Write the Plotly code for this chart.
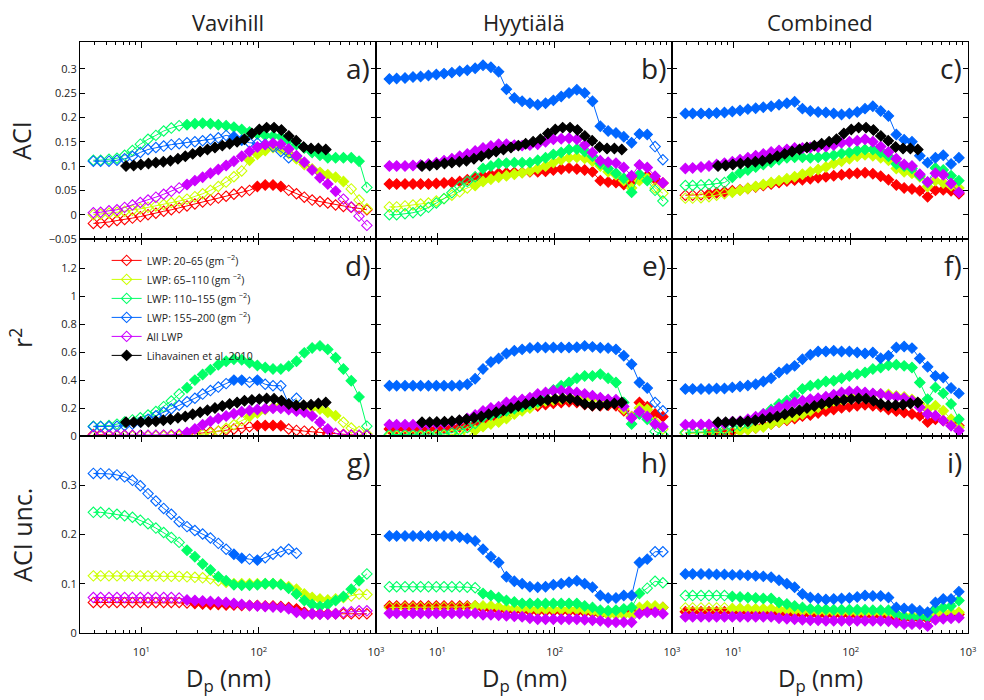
import math
import plotly.graph_objects as go

# ---------------- data ----------------
dp = [3.9, 4.5, 5.3, 6.2, 7.2, 8.4, 9.8, 11.4, 13.3, 15.5, 18.0, 21.0, 24.5, 28.6, 33.3, 38.8,
      45.3, 52.8, 61.5, 71.7, 83.6, 97.5, 113.7, 132.5, 154.5, 180.2, 210.0, 244.9, 285.6,
      333.0, 388.2, 452.6, 527.7, 615.2, 717.3, 836.3]
dp_lih = [7.4, 8.6, 9.9, 11.5, 13.3, 15.4, 17.7, 20.5, 23.7, 27.4, 31.7, 36.6, 42.4, 49.0,
          56.6, 65.5, 75.7, 87.5, 101.2, 117.0, 135.2, 156.3, 180.7, 208.9, 241.5, 279.3,
          322.8, 373.3]

series_names = ["LWP: 20–65 (gm <sup>−2</sup>)", "LWP: 65–110 (gm <sup>−2</sup>)",
                "LWP: 110–155 (gm <sup>−2</sup>)", "LWP: 155–200 (gm <sup>−2</sup>)", "All LWP"]
lih_name = "Lihavainen et al. 2010"
station_names = ["Vavihill", "Hyytiälä", "Combined"]
row_titles = ["ACI", "r<sup>2</sup>", "ACI unc."]
panel_letters = ["a)", "b)", "c)", "d)", "e)", "f)", "g)", "h)", "i)"]

# Lihavainen et al. 2010 reference
lih_aci = [0.100, 0.101, 0.103, 0.105, 0.107, 0.109, 0.111, 0.115, 0.120, 0.125, 0.130, 0.134, 0.138, 0.142,
           0.146, 0.150, 0.155, 0.167, 0.175, 0.179, 0.179, 0.174, 0.162, 0.152, 0.139, 0.136, 0.136, 0.134]
lih_r2 = [0.098, 0.099, 0.100, 0.102, 0.106, 0.112, 0.120, 0.130, 0.140, 0.155, 0.170, 0.185, 0.200, 0.215,
          0.229, 0.240, 0.252, 0.258, 0.264, 0.269, 0.266, 0.252, 0.229, 0.218, 0.220, 0.224, 0.233, 0.240]

# ---- ACI, Vavihill ----
aci_vav_red = [-0.018, -0.017, -0.015, -0.012, -0.010, -0.007, -0.004, 0.000, 0.003, 0.007, 0.010, 0.014, 0.018, 0.022, 0.026, 0.030, 0.034, 0.038, 0.042, 0.047, 0.050, 0.058, 0.061, 0.061, 0.058, 0.050, 0.043, 0.036, 0.030, 0.027, 0.024, 0.020, 0.017, 0.015, 0.013, 0.010]
aci_vav_red_sig = "000000000000000000000111100000000000"
aci_vav_yel = [0.000, 0.001, 0.003, 0.005, 0.007, 0.009, 0.012, 0.015, 0.018, 0.021, 0.025, 0.028, 0.032, 0.037, 0.043, 0.050, 0.058, 0.067, 0.078, 0.090, 0.112, 0.124, 0.132, 0.138, 0.135, 0.126, 0.115, 0.103, 0.094, 0.087, 0.082, 0.077, 0.068, 0.053, 0.030, 0.012]
aci_vav_yel_sig = "000000000000000000001111111111111000"
aci_vav_grn = [0.112, 0.112, 0.114, 0.116, 0.122, 0.132, 0.145, 0.155, 0.163, 0.172, 0.178, 0.183, 0.185, 0.187, 0.188, 0.187, 0.185, 0.183, 0.180, 0.175, 0.170, 0.166, 0.163, 0.162, 0.160, 0.153, 0.144, 0.137, 0.128, 0.122, 0.117, 0.117, 0.117, 0.117, 0.110, 0.056]
aci_vav_grn_sig = "000000000000111111111111111111111110"
aci_vav_blu = [0.110, 0.110, 0.110, 0.112, 0.115, 0.120, 0.128, 0.134, 0.138, 0.141, 0.144, 0.146, 0.148, 0.150, 0.152, 0.155, 0.158, 0.163, 0.160, 0.153, 0.148, 0.147, 0.145, 0.140, 0.130, 0.117, 0.120]
aci_vav_blu_sig = "000000000000000000110000000"
aci_vav_pur = [0.004, 0.005, 0.008, 0.010, 0.015, 0.020, 0.025, 0.030, 0.036, 0.042, 0.048, 0.055, 0.062, 0.070, 0.077, 0.085, 0.093, 0.101, 0.110, 0.120, 0.130, 0.139, 0.144, 0.147, 0.145, 0.135, 0.121, 0.108, 0.092, 0.076, 0.063, 0.048, 0.032, 0.016, -0.003, -0.022]
aci_vav_pur_sig = "000000000000111111111111111111110000"

# ---- ACI, Hyytiala ----
aci_hyy_red = [0.063, 0.063, 0.063, 0.063, 0.063, 0.063, 0.064, 0.065, 0.066, 0.068, 0.072, 0.076, 0.080, 0.082, 0.085, 0.086, 0.087, 0.087, 0.088, 0.088, 0.089, 0.092, 0.094, 0.096, 0.094, 0.092, 0.088, 0.070, 0.067, 0.066, 0.062, 0.068, 0.080, 0.080, 0.073, 0.065]
aci_hyy_red_sig = "111111111111111111111111111111111111"
aci_hyy_yel = [0.016, 0.016, 0.018, 0.020, 0.022, 0.024, 0.028, 0.033, 0.040, 0.047, 0.055, 0.060, 0.068, 0.073, 0.077, 0.080, 0.083, 0.086, 0.090, 0.095, 0.100, 0.107, 0.113, 0.117, 0.118, 0.116, 0.110, 0.100, 0.088, 0.082, 0.070, 0.055, 0.070, 0.075, 0.055, 0.044]
aci_hyy_yel_sig = "000000000001111111111111111111111100"
aci_hyy_grn = [0.000, 0.000, 0.002, 0.004, 0.008, 0.015, 0.024, 0.033, 0.045, 0.058, 0.068, 0.078, 0.095, 0.100, 0.105, 0.106, 0.107, 0.107, 0.107, 0.112, 0.117, 0.124, 0.128, 0.134, 0.135, 0.130, 0.120, 0.105, 0.095, 0.085, 0.075, 0.046, 0.083, 0.070, 0.050, 0.028]
aci_hyy_grn_sig = "000000000000111111111111111111111100"
aci_hyy_blu = [0.279, 0.280, 0.281, 0.283, 0.284, 0.286, 0.288, 0.290, 0.292, 0.295, 0.297, 0.301, 0.307, 0.303, 0.294, 0.258, 0.240, 0.233, 0.229, 0.226, 0.229, 0.235, 0.243, 0.250, 0.257, 0.250, 0.233, 0.182, 0.172, 0.168, 0.160, 0.148, 0.166, 0.165, 0.140, 0.113]
aci_hyy_blu_sig = "111111111111111111111111111111111100"
aci_hyy_pur = [0.100, 0.100, 0.100, 0.101, 0.102, 0.104, 0.107, 0.111, 0.115, 0.120, 0.125, 0.131, 0.137, 0.141, 0.145, 0.145, 0.143, 0.142, 0.143, 0.145, 0.150, 0.155, 0.156, 0.157, 0.155, 0.143, 0.128, 0.111, 0.108, 0.106, 0.097, 0.080, 0.102, 0.097, 0.079, 0.065]
aci_hyy_pur_sig = "111111111111111111111111111111111111"

# ---- ACI, Combined ----
aci_com_red = [0.040, 0.040, 0.041, 0.043, 0.045, 0.047, 0.049, 0.051, 0.054, 0.057, 0.060, 0.063, 0.066, 0.069, 0.071, 0.072, 0.074, 0.076, 0.078, 0.080, 0.082, 0.084, 0.085, 0.086, 0.084, 0.079, 0.072, 0.061, 0.055, 0.053, 0.049, 0.037, 0.050, 0.051, 0.049, 0.043]
aci_com_red_sig = "000111111111111111111111111111111111"
aci_com_yel = [0.034, 0.034, 0.035, 0.037, 0.040, 0.043, 0.046, 0.050, 0.054, 0.058, 0.062, 0.066, 0.070, 0.074, 0.078, 0.083, 0.088, 0.093, 0.098, 0.105, 0.110, 0.115, 0.120, 0.123, 0.121, 0.117, 0.112, 0.095, 0.088, 0.085, 0.078, 0.058, 0.070, 0.065, 0.060, 0.055]
aci_com_yel_sig = "000000111111111111111111111111111111"
aci_com_grn = [0.060, 0.060, 0.061, 0.062, 0.064, 0.066, 0.077, 0.086, 0.092, 0.098, 0.103, 0.108, 0.113, 0.117, 0.118, 0.118, 0.117, 0.118, 0.120, 0.122, 0.126, 0.128, 0.132, 0.134, 0.134, 0.128, 0.120, 0.104, 0.100, 0.095, 0.080, 0.066, 0.096, 0.092, 0.080, 0.070]
aci_com_grn_sig = "000000111111111111111111111111111111"
aci_com_blu = [0.208, 0.208, 0.208, 0.208, 0.209, 0.210, 0.212, 0.214, 0.217, 0.219, 0.221, 0.223, 0.226, 0.229, 0.232, 0.218, 0.213, 0.211, 0.210, 0.208, 0.206, 0.208, 0.211, 0.218, 0.223, 0.213, 0.203, 0.165, 0.154, 0.150, 0.121, 0.107, 0.117, 0.122, 0.104, 0.117]
aci_com_blu_sig = "111111111111111111111111111111111111"
aci_com_pur = [0.095, 0.096, 0.098, 0.100, 0.103, 0.106, 0.109, 0.113, 0.117, 0.121, 0.125, 0.129, 0.132, 0.134, 0.137, 0.137, 0.138, 0.139, 0.140, 0.143, 0.148, 0.150, 0.152, 0.155, 0.150, 0.140, 0.129, 0.115, 0.103, 0.100, 0.083, 0.067, 0.085, 0.082, 0.064, 0.046]
aci_com_pur_sig = "111111111111111111111111111111111111"

# ---- r2, Vavihill ----
r2_vav_red = [0.010, 0.010, 0.008, 0.006, 0.005, 0.004, 0.003, 0.002, 0.002, 0.003, 0.005, 0.008, 0.012, 0.017, 0.022, 0.028, 0.035, 0.042, 0.050, 0.058, 0.066, 0.073, 0.075, 0.075, 0.074, 0.050, 0.040, 0.035, 0.030, 0.025, 0.020, 0.015, 0.010, 0.006, 0.004, 0.002]
r2_vav_red_sig = "000000000000000000000111100000000000"
r2_vav_yel = [0.000, 0.000, 0.000, 0.000, 0.000, 0.000, 0.000, 0.000, 0.000, 0.000, 0.000, 0.000, 0.002, 0.006, 0.012, 0.020, 0.035, 0.055, 0.080, 0.110, 0.140, 0.165, 0.190, 0.205, 0.217, 0.224, 0.220, 0.210, 0.205, 0.193, 0.170, 0.145, 0.098, 0.057, 0.033, 0.014]
r2_vav_yel_sig = "000000000000000000001111111111110000"
r2_vav_grn = [0.070, 0.070, 0.075, 0.085, 0.100, 0.115, 0.130, 0.150, 0.175, 0.210, 0.250, 0.300, 0.345, 0.400, 0.440, 0.475, 0.510, 0.535, 0.550, 0.545, 0.525, 0.505, 0.490, 0.480, 0.480, 0.500, 0.535, 0.595, 0.630, 0.645, 0.620, 0.560, 0.480, 0.395, 0.280, 0.070]
r2_vav_grn_sig = "000000000000111111111111111111111110"
r2_vav_blu = [0.067, 0.067, 0.068, 0.070, 0.075, 0.085, 0.100, 0.120, 0.145, 0.170, 0.195, 0.220, 0.245, 0.270, 0.300, 0.325, 0.350, 0.375, 0.400, 0.400, 0.385, 0.400, 0.370, 0.360, 0.360, 0.230, 0.270]
r2_vav_blu_sig = "000000000000000000110100000"
r2_vav_pur = [0.005, 0.005, 0.005, 0.005, 0.005, 0.005, 0.005, 0.005, 0.005, 0.006, 0.008, 0.012, 0.025, 0.050, 0.080, 0.105, 0.125, 0.143, 0.160, 0.174, 0.183, 0.190, 0.195, 0.198, 0.198, 0.190, 0.179, 0.170, 0.143, 0.098, 0.050, 0.020, 0.007, 0.005, 0.005, 0.005]
r2_vav_pur_sig = "000000000000111111111111111111100000"

# ---- r2, Hyytiala ----
r2_hyy_red = [0.050, 0.050, 0.050, 0.050, 0.050, 0.050, 0.052, 0.055, 0.060, 0.065, 0.075, 0.085, 0.100, 0.115, 0.130, 0.150, 0.170, 0.190, 0.205, 0.215, 0.225, 0.235, 0.240, 0.245, 0.240, 0.225, 0.217, 0.217, 0.220, 0.217, 0.180, 0.138, 0.240, 0.210, 0.157, 0.138]
r2_hyy_red_sig = "111111111111111111111111111111111111"
r2_hyy_yel = [0.000, 0.000, 0.000, 0.000, 0.000, 0.000, 0.002, 0.005, 0.010, 0.018, 0.028, 0.040, 0.067, 0.086, 0.100, 0.125, 0.157, 0.180, 0.200, 0.230, 0.250, 0.258, 0.265, 0.270, 0.272, 0.270, 0.267, 0.262, 0.255, 0.245, 0.193, 0.138, 0.200, 0.190, 0.100, 0.050]
r2_hyy_yel_sig = "000000000001111111111111111111111100"
r2_hyy_grn = [0.010, 0.010, 0.010, 0.010, 0.010, 0.010, 0.012, 0.015, 0.025, 0.040, 0.060, 0.090, 0.136, 0.150, 0.165, 0.180, 0.195, 0.210, 0.225, 0.245, 0.270, 0.330, 0.360, 0.383, 0.414, 0.430, 0.430, 0.443, 0.414, 0.383, 0.240, 0.086, 0.157, 0.120, 0.033, 0.010]
r2_hyy_grn_sig = "000000000000111111111111111111111100"
r2_hyy_blu = [0.360, 0.360, 0.360, 0.360, 0.360, 0.360, 0.360, 0.360, 0.360, 0.362, 0.370, 0.410, 0.480, 0.530, 0.555, 0.590, 0.610, 0.620, 0.630, 0.633, 0.633, 0.633, 0.633, 0.633, 0.635, 0.645, 0.638, 0.632, 0.629, 0.620, 0.574, 0.514, 0.383, 0.343, 0.240, 0.180]
r2_hyy_blu_sig = "111111111111111111111111111111111100"
r2_hyy_pur = [0.080, 0.080, 0.080, 0.080, 0.082, 0.085, 0.088, 0.092, 0.100, 0.110, 0.126, 0.150, 0.179, 0.200, 0.210, 0.240, 0.250, 0.262, 0.274, 0.300, 0.312, 0.324, 0.324, 0.319, 0.312, 0.300, 0.288, 0.274, 0.262, 0.260, 0.212, 0.129, 0.176, 0.140, 0.086, 0.067]
r2_hyy_pur_sig = "111111111111111111111111111111111111"

# ---- r2, Combined ----
r2_com_red = [0.020, 0.020, 0.025, 0.026, 0.027, 0.028, 0.030, 0.038, 0.047, 0.057, 0.074, 0.085, 0.100, 0.112, 0.125, 0.143, 0.150, 0.165, 0.178, 0.190, 0.202, 0.210, 0.217, 0.224, 0.217, 0.210, 0.190, 0.179, 0.168, 0.157, 0.145, 0.100, 0.120, 0.110, 0.098, 0.074]
r2_com_red_sig = "000111111111111111111111111111111111"
r2_com_yel = [0.020, 0.020, 0.020, 0.020, 0.022, 0.025, 0.030, 0.038, 0.045, 0.057, 0.065, 0.086, 0.100, 0.120, 0.140, 0.157, 0.180, 0.205, 0.229, 0.252, 0.264, 0.274, 0.288, 0.298, 0.300, 0.300, 0.298, 0.286, 0.280, 0.262, 0.229, 0.193, 0.217, 0.180, 0.120, 0.062]
r2_com_yel_sig = "000000011111111111111111111111111111"
r2_com_grn = [0.026, 0.026, 0.028, 0.030, 0.035, 0.045, 0.062, 0.074, 0.090, 0.120, 0.157, 0.190, 0.229, 0.252, 0.290, 0.336, 0.360, 0.371, 0.390, 0.395, 0.414, 0.430, 0.443, 0.455, 0.479, 0.490, 0.507, 0.510, 0.502, 0.490, 0.383, 0.264, 0.348, 0.305, 0.229, 0.120]
r2_com_grn_sig = "000000000111111111111111111111111111"
r2_com_blu = [0.336, 0.336, 0.336, 0.336, 0.340, 0.340, 0.348, 0.355, 0.362, 0.371, 0.390, 0.414, 0.455, 0.479, 0.502, 0.550, 0.581, 0.605, 0.605, 0.610, 0.605, 0.605, 0.598, 0.590, 0.598, 0.557, 0.574, 0.633, 0.640, 0.629, 0.555, 0.495, 0.430, 0.419, 0.343, 0.305]
r2_com_blu_sig = "111111111111111111111111111111111111"
r2_com_pur = [0.081, 0.081, 0.082, 0.083, 0.085, 0.090, 0.102, 0.105, 0.120, 0.138, 0.157, 0.176, 0.205, 0.220, 0.240, 0.252, 0.264, 0.270, 0.281, 0.295, 0.312, 0.319, 0.319, 0.312, 0.305, 0.300, 0.286, 0.280, 0.271, 0.252, 0.205, 0.157, 0.145, 0.110, 0.074, 0.038]
r2_com_pur_sig = "111111111111111111111111111111111111"

# ---- ACI unc., Vavihill ----
unc_vav_red = [0.062, 0.062, 0.062, 0.062, 0.062, 0.062, 0.062, 0.062, 0.062, 0.062, 0.062, 0.062, 0.061, 0.060, 0.059, 0.058, 0.058, 0.057, 0.057, 0.056, 0.056, 0.056, 0.055, 0.055, 0.054, 0.052, 0.049, 0.042, 0.039, 0.039, 0.039, 0.039, 0.039, 0.039, 0.039, 0.039]
unc_vav_red_sig = "000000000000011111111111111111110000"
unc_vav_yel = [0.116, 0.116, 0.116, 0.116, 0.116, 0.116, 0.116, 0.116, 0.116, 0.115, 0.115, 0.115, 0.114, 0.113, 0.112, 0.110, 0.106, 0.103, 0.100, 0.100, 0.100, 0.100, 0.100, 0.100, 0.099, 0.094, 0.089, 0.079, 0.072, 0.069, 0.067, 0.069, 0.072, 0.075, 0.079, 0.078]
unc_vav_yel_sig = "000000000000000001111111111111100000"
unc_vav_grn = [0.245, 0.245, 0.243, 0.241, 0.238, 0.235, 0.229, 0.222, 0.213, 0.204, 0.194, 0.184, 0.168, 0.155, 0.140, 0.128, 0.114, 0.106, 0.098, 0.097, 0.097, 0.098, 0.100, 0.100, 0.098, 0.091, 0.079, 0.066, 0.058, 0.054, 0.058, 0.066, 0.074, 0.089, 0.106, 0.120]
unc_vav_grn_sig = "000000000000111111111111111111111110"
unc_vav_blu = [0.324, 0.324, 0.323, 0.321, 0.317, 0.310, 0.299, 0.283, 0.268, 0.253, 0.241, 0.226, 0.216, 0.208, 0.201, 0.193, 0.182, 0.170, 0.160, 0.152, 0.150, 0.148, 0.153, 0.160, 0.165, 0.170, 0.162]
unc_vav_blu_sig = "000000000000000000110100000"
unc_vav_pur = [0.072, 0.072, 0.072, 0.072, 0.072, 0.072, 0.072, 0.072, 0.072, 0.072, 0.072, 0.071, 0.067, 0.066, 0.065, 0.064, 0.063, 0.062, 0.060, 0.058, 0.056, 0.055, 0.054, 0.053, 0.052, 0.049, 0.042, 0.039, 0.039, 0.038, 0.038, 0.039, 0.042, 0.043, 0.045, 0.045]
unc_vav_pur_sig = "000000000000111111111111111111110000"

# ---- ACI unc., Hyytiala ----
unc_hyy_red = [0.055, 0.055, 0.055, 0.055, 0.055, 0.055, 0.055, 0.055, 0.055, 0.055, 0.055, 0.055, 0.050, 0.048, 0.047, 0.046, 0.045, 0.045, 0.044, 0.044, 0.044, 0.044, 0.044, 0.044, 0.043, 0.042, 0.041, 0.038, 0.038, 0.038, 0.038, 0.045, 0.047, 0.050, 0.050, 0.052]
unc_hyy_red_sig = "111111111111111111111111111111111111"
unc_hyy_yel = [0.052, 0.052, 0.052, 0.052, 0.052, 0.052, 0.052, 0.052, 0.052, 0.052, 0.053, 0.055, 0.055, 0.055, 0.053, 0.050, 0.050, 0.049, 0.049, 0.048, 0.048, 0.048, 0.048, 0.048, 0.048, 0.046, 0.044, 0.040, 0.037, 0.037, 0.037, 0.037, 0.052, 0.055, 0.055, 0.052]
unc_hyy_yel_sig = "000000000001111111111111111111111111"
unc_hyy_grn = [0.094, 0.094, 0.094, 0.094, 0.094, 0.094, 0.094, 0.094, 0.094, 0.094, 0.093, 0.092, 0.080, 0.076, 0.072, 0.066, 0.063, 0.060, 0.060, 0.060, 0.060, 0.060, 0.060, 0.060, 0.060, 0.055, 0.052, 0.046, 0.045, 0.046, 0.049, 0.052, 0.080, 0.091, 0.105, 0.102]
unc_hyy_grn_sig = "000000000000111111111111111111111000"
unc_hyy_blu = [0.197, 0.197, 0.197, 0.197, 0.197, 0.197, 0.197, 0.197, 0.197, 0.195, 0.192, 0.187, 0.170, 0.155, 0.143, 0.114, 0.105, 0.100, 0.094, 0.093, 0.094, 0.098, 0.100, 0.103, 0.106, 0.100, 0.093, 0.076, 0.071, 0.071, 0.076, 0.076, 0.143, 0.150, 0.165, 0.165]
unc_hyy_blu_sig = "111111111111111111111111111111111100"
unc_hyy_pur = [0.040, 0.040, 0.040, 0.040, 0.040, 0.040, 0.040, 0.040, 0.040, 0.040, 0.040, 0.040, 0.037, 0.037, 0.036, 0.035, 0.034, 0.033, 0.030, 0.028, 0.028, 0.028, 0.028, 0.028, 0.028, 0.027, 0.026, 0.025, 0.022, 0.022, 0.022, 0.022, 0.039, 0.042, 0.042, 0.039]
unc_hyy_pur_sig = "111111111111111111111111111111111111"

# ---- ACI unc., Combined ----
unc_com_red = [0.043, 0.043, 0.043, 0.043, 0.043, 0.043, 0.043, 0.043, 0.043, 0.043, 0.042, 0.042, 0.040, 0.039, 0.038, 0.038, 0.038, 0.037, 0.037, 0.037, 0.037, 0.037, 0.036, 0.036, 0.036, 0.035, 0.034, 0.030, 0.030, 0.029, 0.029, 0.029, 0.035, 0.036, 0.037, 0.038]
unc_com_red_sig = "111111111111111111111111111111111111"
unc_com_yel = [0.051, 0.051, 0.051, 0.051, 0.051, 0.051, 0.050, 0.050, 0.049, 0.049, 0.049, 0.049, 0.048, 0.047, 0.046, 0.045, 0.045, 0.044, 0.044, 0.043, 0.043, 0.043, 0.042, 0.042, 0.042, 0.042, 0.041, 0.037, 0.035, 0.035, 0.035, 0.035, 0.039, 0.041, 0.042, 0.042]
unc_com_yel_sig = "000000111111111111111111111111111111"
unc_com_grn = [0.076, 0.076, 0.076, 0.076, 0.076, 0.076, 0.074, 0.073, 0.072, 0.071, 0.070, 0.070, 0.062, 0.059, 0.055, 0.052, 0.049, 0.048, 0.048, 0.047, 0.047, 0.047, 0.047, 0.047, 0.046, 0.046, 0.046, 0.039, 0.033, 0.032, 0.032, 0.032, 0.049, 0.052, 0.055, 0.066]
unc_com_grn_sig = "000000111111111111111111111111111111"
unc_com_blu = [0.120, 0.120, 0.120, 0.120, 0.119, 0.119, 0.118, 0.118, 0.117, 0.116, 0.115, 0.113, 0.107, 0.100, 0.093, 0.079, 0.072, 0.070, 0.068, 0.069, 0.070, 0.071, 0.073, 0.076, 0.075, 0.075, 0.072, 0.052, 0.050, 0.049, 0.045, 0.042, 0.062, 0.069, 0.069, 0.084]
unc_com_blu_sig = "111111111111111111111111111111111111"
unc_com_pur = [0.033, 0.033, 0.033, 0.033, 0.033, 0.033, 0.033, 0.033, 0.033, 0.033, 0.033, 0.033, 0.030, 0.029, 0.028, 0.027, 0.026, 0.026, 0.025, 0.025, 0.025, 0.025, 0.025, 0.025, 0.025, 0.025, 0.024, 0.021, 0.018, 0.018, 0.018, 0.014, 0.027, 0.029, 0.030, 0.031]
unc_com_pur_sig = "111111111111111111111111111111111111"

# ---------------- figure ----------------
COLORS = ["#ff0000", "#ccff00", "#00ff66", "#0066ff", "#cc00ff"]
FONT = "Open Sans, Lato, sans-serif"

panels = [
    [[(aci_vav_red, aci_vav_red_sig), (aci_vav_yel, aci_vav_yel_sig), (aci_vav_grn, aci_vav_grn_sig), (aci_vav_blu, aci_vav_blu_sig), (aci_vav_pur, aci_vav_pur_sig)],
     [(aci_hyy_red, aci_hyy_red_sig), (aci_hyy_yel, aci_hyy_yel_sig), (aci_hyy_grn, aci_hyy_grn_sig), (aci_hyy_blu, aci_hyy_blu_sig), (aci_hyy_pur, aci_hyy_pur_sig)],
     [(aci_com_red, aci_com_red_sig), (aci_com_yel, aci_com_yel_sig), (aci_com_grn, aci_com_grn_sig), (aci_com_blu, aci_com_blu_sig), (aci_com_pur, aci_com_pur_sig)]],
    [[(r2_vav_red, r2_vav_red_sig), (r2_vav_yel, r2_vav_yel_sig), (r2_vav_grn, r2_vav_grn_sig), (r2_vav_blu, r2_vav_blu_sig), (r2_vav_pur, r2_vav_pur_sig)],
     [(r2_hyy_red, r2_hyy_red_sig), (r2_hyy_yel, r2_hyy_yel_sig), (r2_hyy_grn, r2_hyy_grn_sig), (r2_hyy_blu, r2_hyy_blu_sig), (r2_hyy_pur, r2_hyy_pur_sig)],
     [(r2_com_red, r2_com_red_sig), (r2_com_yel, r2_com_yel_sig), (r2_com_grn, r2_com_grn_sig), (r2_com_blu, r2_com_blu_sig), (r2_com_pur, r2_com_pur_sig)]],
    [[(unc_vav_red, unc_vav_red_sig), (unc_vav_yel, unc_vav_yel_sig), (unc_vav_grn, unc_vav_grn_sig), (unc_vav_blu, unc_vav_blu_sig), (unc_vav_pur, unc_vav_pur_sig)],
     [(unc_hyy_red, unc_hyy_red_sig), (unc_hyy_yel, unc_hyy_yel_sig), (unc_hyy_grn, unc_hyy_grn_sig), (unc_hyy_blu, unc_hyy_blu_sig), (unc_hyy_pur, unc_hyy_pur_sig)],
     [(unc_com_red, unc_com_red_sig), (unc_com_yel, unc_com_yel_sig), (unc_com_grn, unc_com_grn_sig), (unc_com_blu, unc_com_blu_sig), (unc_com_pur, unc_com_pur_sig)]],
]
lih_rows = [lih_aci, lih_r2, None]

y_ranges = [[-0.05, 0.355], [0, 1.41], [0, 0.4]]
y_tickvals = [[-0.05, 0, 0.05, 0.1, 0.15, 0.2, 0.25, 0.3],
              [0, 0.2, 0.4, 0.6, 0.8, 1.0, 1.2],
              [0, 0.1, 0.2, 0.3]]
y_ticktext = [["−0.05", "0", "0.05", "0.1", "0.15", "0.2", "0.25", "0.3"],
              ["0", "0.2", "0.4", "0.6", "0.8", "1", "1.2"],
              ["0", "0.1", "0.2", "0.3"]]
x_minor = [v * m for m in (1, 10, 100) for v in range(2, 10) if v * m >= 3]

fig = go.Figure()
layout = dict(
    width=984, height=700,
    margin=dict(l=80, r=7, t=42, b=67),
    paper_bgcolor="white", plot_bgcolor="white",
    font=dict(family=FONT, color="#222222"),
    showlegend=True,
    legend=dict(x=0.03, y=0.655, xanchor="left", yanchor="top", bgcolor="rgba(0,0,0,0)",
                font=dict(size=10.5, family=FONT, color="#222222"), tracegroupgap=0),
    annotations=[],
)

for r in range(3):
    for c in range(3):
        idx = r * 3 + c + 1
        sfx = "" if idx == 1 else str(idx)
        xa, ya = "x" + sfx, "y" + sfx
        layout["xaxis" + sfx] = dict(
            type="log", range=[math.log10(3), 3], domain=[c / 3, (c + 1) / 3], anchor=ya,
            showline=True, linecolor="black", linewidth=1.2, mirror="ticks",
            ticks="inside", ticklen=6, tickwidth=1, tickcolor="black",
            tickvals=[10, 100, 1000],
            ticktext=["10<sup>1</sup>", "10<sup>2</sup>", "10<sup>3</sup>"],
            showticklabels=(r == 2), ticklabelstandoff=9,
            tickfont=dict(size=11, color="#222222"),
            minor=dict(tickvals=x_minor, ticks="inside", ticklen=3, tickwidth=1,
                       tickcolor="black", showgrid=False),
            showgrid=False, zeroline=False,
        )
        layout["yaxis" + sfx] = dict(
            range=y_ranges[r], domain=[(2 - r) / 3, (3 - r) / 3], anchor=xa,
            showline=True, linecolor="black", linewidth=1.2, mirror="ticks",
            ticks="inside", ticklen=5, tickwidth=1, tickcolor="black",
            tickvals=y_tickvals[r], ticktext=y_ticktext[r],
            showticklabels=(c == 0), tickfont=dict(size=11, color="#222222"),
            showgrid=False, zeroline=False,
        )
        for k, (vals, sig) in enumerate(panels[r][c]):
            syms = ["diamond" if s == "1" else "diamond-open" for s in sig]
            fig.add_trace(go.Scatter(
                x=dp[:len(vals)], y=vals, xaxis=xa, yaxis=ya, mode="lines+markers",
                name=series_names[k], showlegend=(r == 1 and c == 0),
                line=dict(color=COLORS[k], width=1),
                marker=dict(symbol=syms, size=8, color=COLORS[k],
                            line=dict(color=COLORS[k], width=1.1)),
                hoverinfo="skip",
            ))
        if lih_rows[r] is not None:
            fig.add_trace(go.Scatter(
                x=dp_lih, y=lih_rows[r], xaxis=xa, yaxis=ya, mode="lines+markers",
                name=lih_name, showlegend=(r == 1 and c == 0),
                line=dict(color="black", width=1),
                marker=dict(symbol="diamond", size=8, color="black",
                            line=dict(color="black", width=1.1)),
                hoverinfo="skip",
            ))
        layout["annotations"].append(dict(
            text=panel_letters[idx - 1], xref=xa + " domain", yref=ya + " domain",
            x=0.985, y=0.87, xanchor="right", yanchor="middle", showarrow=False,
            font=dict(size=28, family=FONT, color="#222222")))

for c in range(3):
    layout["annotations"].append(dict(
        text=station_names[c], xref="paper", yref="paper", x=(c + 0.5) / 3, y=1.034,
        xanchor="center", yanchor="middle", showarrow=False,
        font=dict(size=22, family=FONT, color="#222222")))
    layout["annotations"].append(dict(
        text="D<sub>p</sub> (nm)", xref="paper", yref="paper", x=(c + 0.5) / 3, y=-0.077,
        xanchor="center", yanchor="middle", showarrow=False,
        font=dict(size=24, family=FONT, color="#222222")))
for r in range(3):
    layout["annotations"].append(dict(
        text=row_titles[r], xref="paper", yref="paper", x=-0.066, y=(2.5 - r) / 3,
        xanchor="center", yanchor="middle", textangle=-90, showarrow=False,
        font=dict(size=25, family=FONT, color="#222222")))

fig.update_layout(**layout)
fig.write_html("out.html", include_plotlyjs=True, config={"displayModeBar": False})
